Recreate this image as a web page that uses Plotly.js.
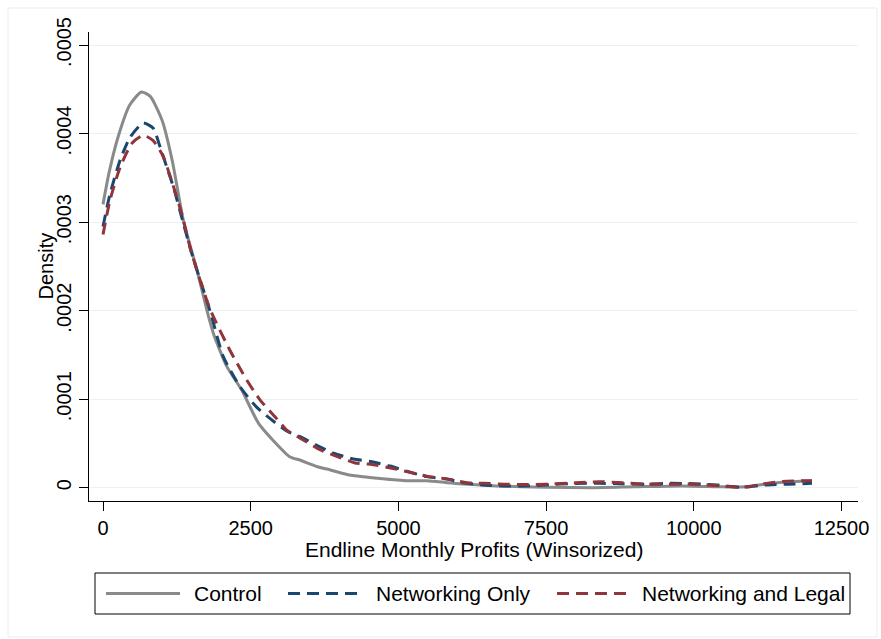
<!DOCTYPE html>
<html>
<head>
<meta charset="utf-8">
<script src="https://cdn.plot.ly/plotly-3.0.1.min.js"></script>
<style>html,body{margin:0;padding:0;background:#fff;}#chart{width:881px;height:639px;}</style>
</head>
<body>
<div id="chart"></div>
<script>
// ---- data ----
const controlX = [0,100,250,450,650,800,1000,1170,1360,1590,1760,1870,2095,2350,2630,2900,3160,3340,3620,3850,4130,4400,4690,5140,5480,5800,6100,6660,7500,8300,9000,9800,10500,10900,11300,11700,12000];
const controlY = [0.000320,0.000355,0.000395,0.000432,0.000447,0.000442,0.000415,0.000370,0.000302,0.000246,0.000200,0.000174,0.000137,0.000110,0.000073,0.000052,0.000035,0.000031,0.000024,0.000020,0.000015,0.0000125,0.0000105,0.0000080,0.0000078,0.0000060,0.0000042,0.0000020,0.0000005,0.0000000,0.0000010,0.0000020,0.0000010,0.0000010,0.0000050,0.0000070,0.0000080];

const netX = [0,120,290,460,680,850,965,1080,1190,1330,1500,1810,2036,2320,2600,2830,3110,3335,3617,3900,4240,4550,4860,5170,5480,5820,6100,6440,6780,7100,7400,7740,8000,8400,8800,9200,9600,10000,10400,10800,11200,11600,12000];
const netY = [0.000295,0.000332,0.000370,0.000396,0.000412,0.000406,0.000385,0.000362,0.000340,0.000306,0.000265,0.000200,0.000148,0.000114,0.000091,0.000078,0.000064,0.0000576,0.000048,0.000039,0.0000324,0.0000293,0.0000245,0.000018,0.0000125,0.0000098,0.0000056,0.0000030,0.0000020,0.0000020,0.0000027,0.0000042,0.0000048,0.0000050,0.0000045,0.0000040,0.0000050,0.0000045,0.0000030,0.0000005,0.0000030,0.0000040,0.0000050];

const legalX = [0,120,290,490,680,850,1020,1160,1330,1500,1810,2150,2430,2660,2940,3110,3390,3673,4010,4265,4575,4890,5200,5480,5820,6160,6440,6780,7120,7500,8000,8400,8800,9200,9600,10000,10500,10800,11200,11500,12000];
const legalY = [0.000286,0.000325,0.000362,0.000389,0.000398,0.000392,0.000374,0.000347,0.000310,0.000265,0.000202,0.000155,0.000122,0.000099,0.000078,0.000065,0.000054,0.000043,0.000034,0.000028,0.000026,0.000022,0.0000173,0.000013,0.000010,0.0000057,0.0000050,0.0000040,0.0000035,0.0000040,0.0000055,0.0000068,0.0000055,0.0000040,0.0000040,0.0000040,0.0000020,0.0000003,0.0000045,0.0000070,0.0000080];

const seriesNames = ["Control","Networking Only","Networking and Legal"];
const xTickVals = [0,2500,5000,7500,10000,12500];
const xTickText = ["0","2500","5000","7500","10000","12500"];
const yTickVals = [0,0.0001,0.0002,0.0003,0.0004,0.0005];
const yTickText = ["0",".0001",".0002",".0003",".0004",".0005"];
const xTitle = "Endline Monthly Profits (Winsorized)";
const yTitle = "Density";

// ---- styles ----
const FONT = "Liberation Sans, Arial, Helvetica, sans-serif";
const colors = ["#8a8a8a","#1a476f","#90353b"];
const dashes = ["solid","12px,7px","12px,7px"];

const traces = [
  {x: controlX, y: controlY},
  {x: netX, y: netY},
  {x: legalX, y: legalY}
].map((d,i)=>({
  x: d.x, y: d.y, type: "scatter", mode: "lines", name: seriesNames[i],
  line: {color: colors[i], width: 3, dash: dashes[i], shape: "spline", smoothing: 0.6},
  showlegend: false, hoverinfo: "skip"
}));

// plot area in pixels: x 89..858, y 32..501
const L=89, R=858, T=32, B=501;
const px = v => (v - L) / (R - L);
const py = v => (B - v) / (B - T);

const legendY = py(593.5);
const shapes = [
  {type:"rect", xref:"paper", yref:"paper", x0:px(8), x1:px(877), y0:py(637), y1:py(8), line:{color:"#e6eef0", width:1}, fillcolor:"rgba(0,0,0,0)", layer:"below"},
  {type:"rect", xref:"paper", yref:"paper", x0:px(95), x1:px(850), y0:py(614), y1:py(573), line:{color:"#000", width:1}, fillcolor:"#fff"},
  {type:"line", xref:"paper", yref:"paper", x0:px(106), x1:px(180), y0:legendY, y1:legendY, line:{color:colors[0], width:3, dash:dashes[0]}},
  {type:"line", xref:"paper", yref:"paper", x0:px(288), x1:px(361), y0:legendY, y1:legendY, line:{color:colors[1], width:3, dash:dashes[1]}},
  {type:"line", xref:"paper", yref:"paper", x0:px(557), x1:px(629), y0:legendY, y1:legendY, line:{color:colors[2], width:3, dash:dashes[2]}}
];

const annotations = [
  {text: seriesNames[0], xref:"paper", yref:"paper", x:px(192), y:legendY, xanchor:"left", yanchor:"middle", showarrow:false, font:{family:FONT, size:21, color:"#000"}},
  {text: seriesNames[1], xref:"paper", yref:"paper", x:px(374), y:legendY, xanchor:"left", yanchor:"middle", showarrow:false, font:{family:FONT, size:21, color:"#000"}},
  {text: seriesNames[2], xref:"paper", yref:"paper", x:px(640), y:legendY, xanchor:"left", yanchor:"middle", showarrow:false, font:{family:FONT, size:21, color:"#000"}},
  {text: xTitle, xref:"paper", yref:"paper", x:0.5, y:py(549), xanchor:"center", yanchor:"middle", showarrow:false, font:{family:FONT, size:21, color:"#000"}},
  {text: yTitle, xref:"paper", yref:"paper", x:px(45), y:0.5, xanchor:"center", yanchor:"middle", textangle:-90, showarrow:false, font:{family:FONT, size:20, color:"#000"}}
];

const layout = {
  width: 881, height: 639,
  margin: {l: L, r: 881-R, t: T, b: 639-B, pad: 0},
  paper_bgcolor: "#fff", plot_bgcolor: "#fff",
  font: {family: FONT, size: 20, color: "#000"},
  xaxis: {
    range: [-237, 12779], tickvals: xTickVals, ticktext: xTickText,
    showgrid: false, zeroline: false, showline: true, linecolor: "#000", linewidth: 1,
    ticks: "outside", ticklen: 9, tickwidth: 1, tickcolor: "#000",
    tickfont: {family: FONT, size: 20, color: "#000"}, fixedrange: true
  },
  yaxis: {
    range: [-0.0000150, 0.0005147], tickvals: yTickVals, ticktext: yTickText,
    tickangle: -90,
    showgrid: true, gridcolor: "#eaf2f3", gridwidth: 1,
    zeroline: false, showline: true, linecolor: "#000", linewidth: 1,
    ticks: "outside", ticklen: 9, tickwidth: 1, tickcolor: "#000",
    tickfont: {family: FONT, size: 20, color: "#000"}, fixedrange: true
  },
  shapes: shapes,
  annotations: annotations,
  showlegend: false
};

Plotly.newPlot("chart", traces, layout, {displayModeBar: false, staticPlot: true});
</script>
</body>
</html>
